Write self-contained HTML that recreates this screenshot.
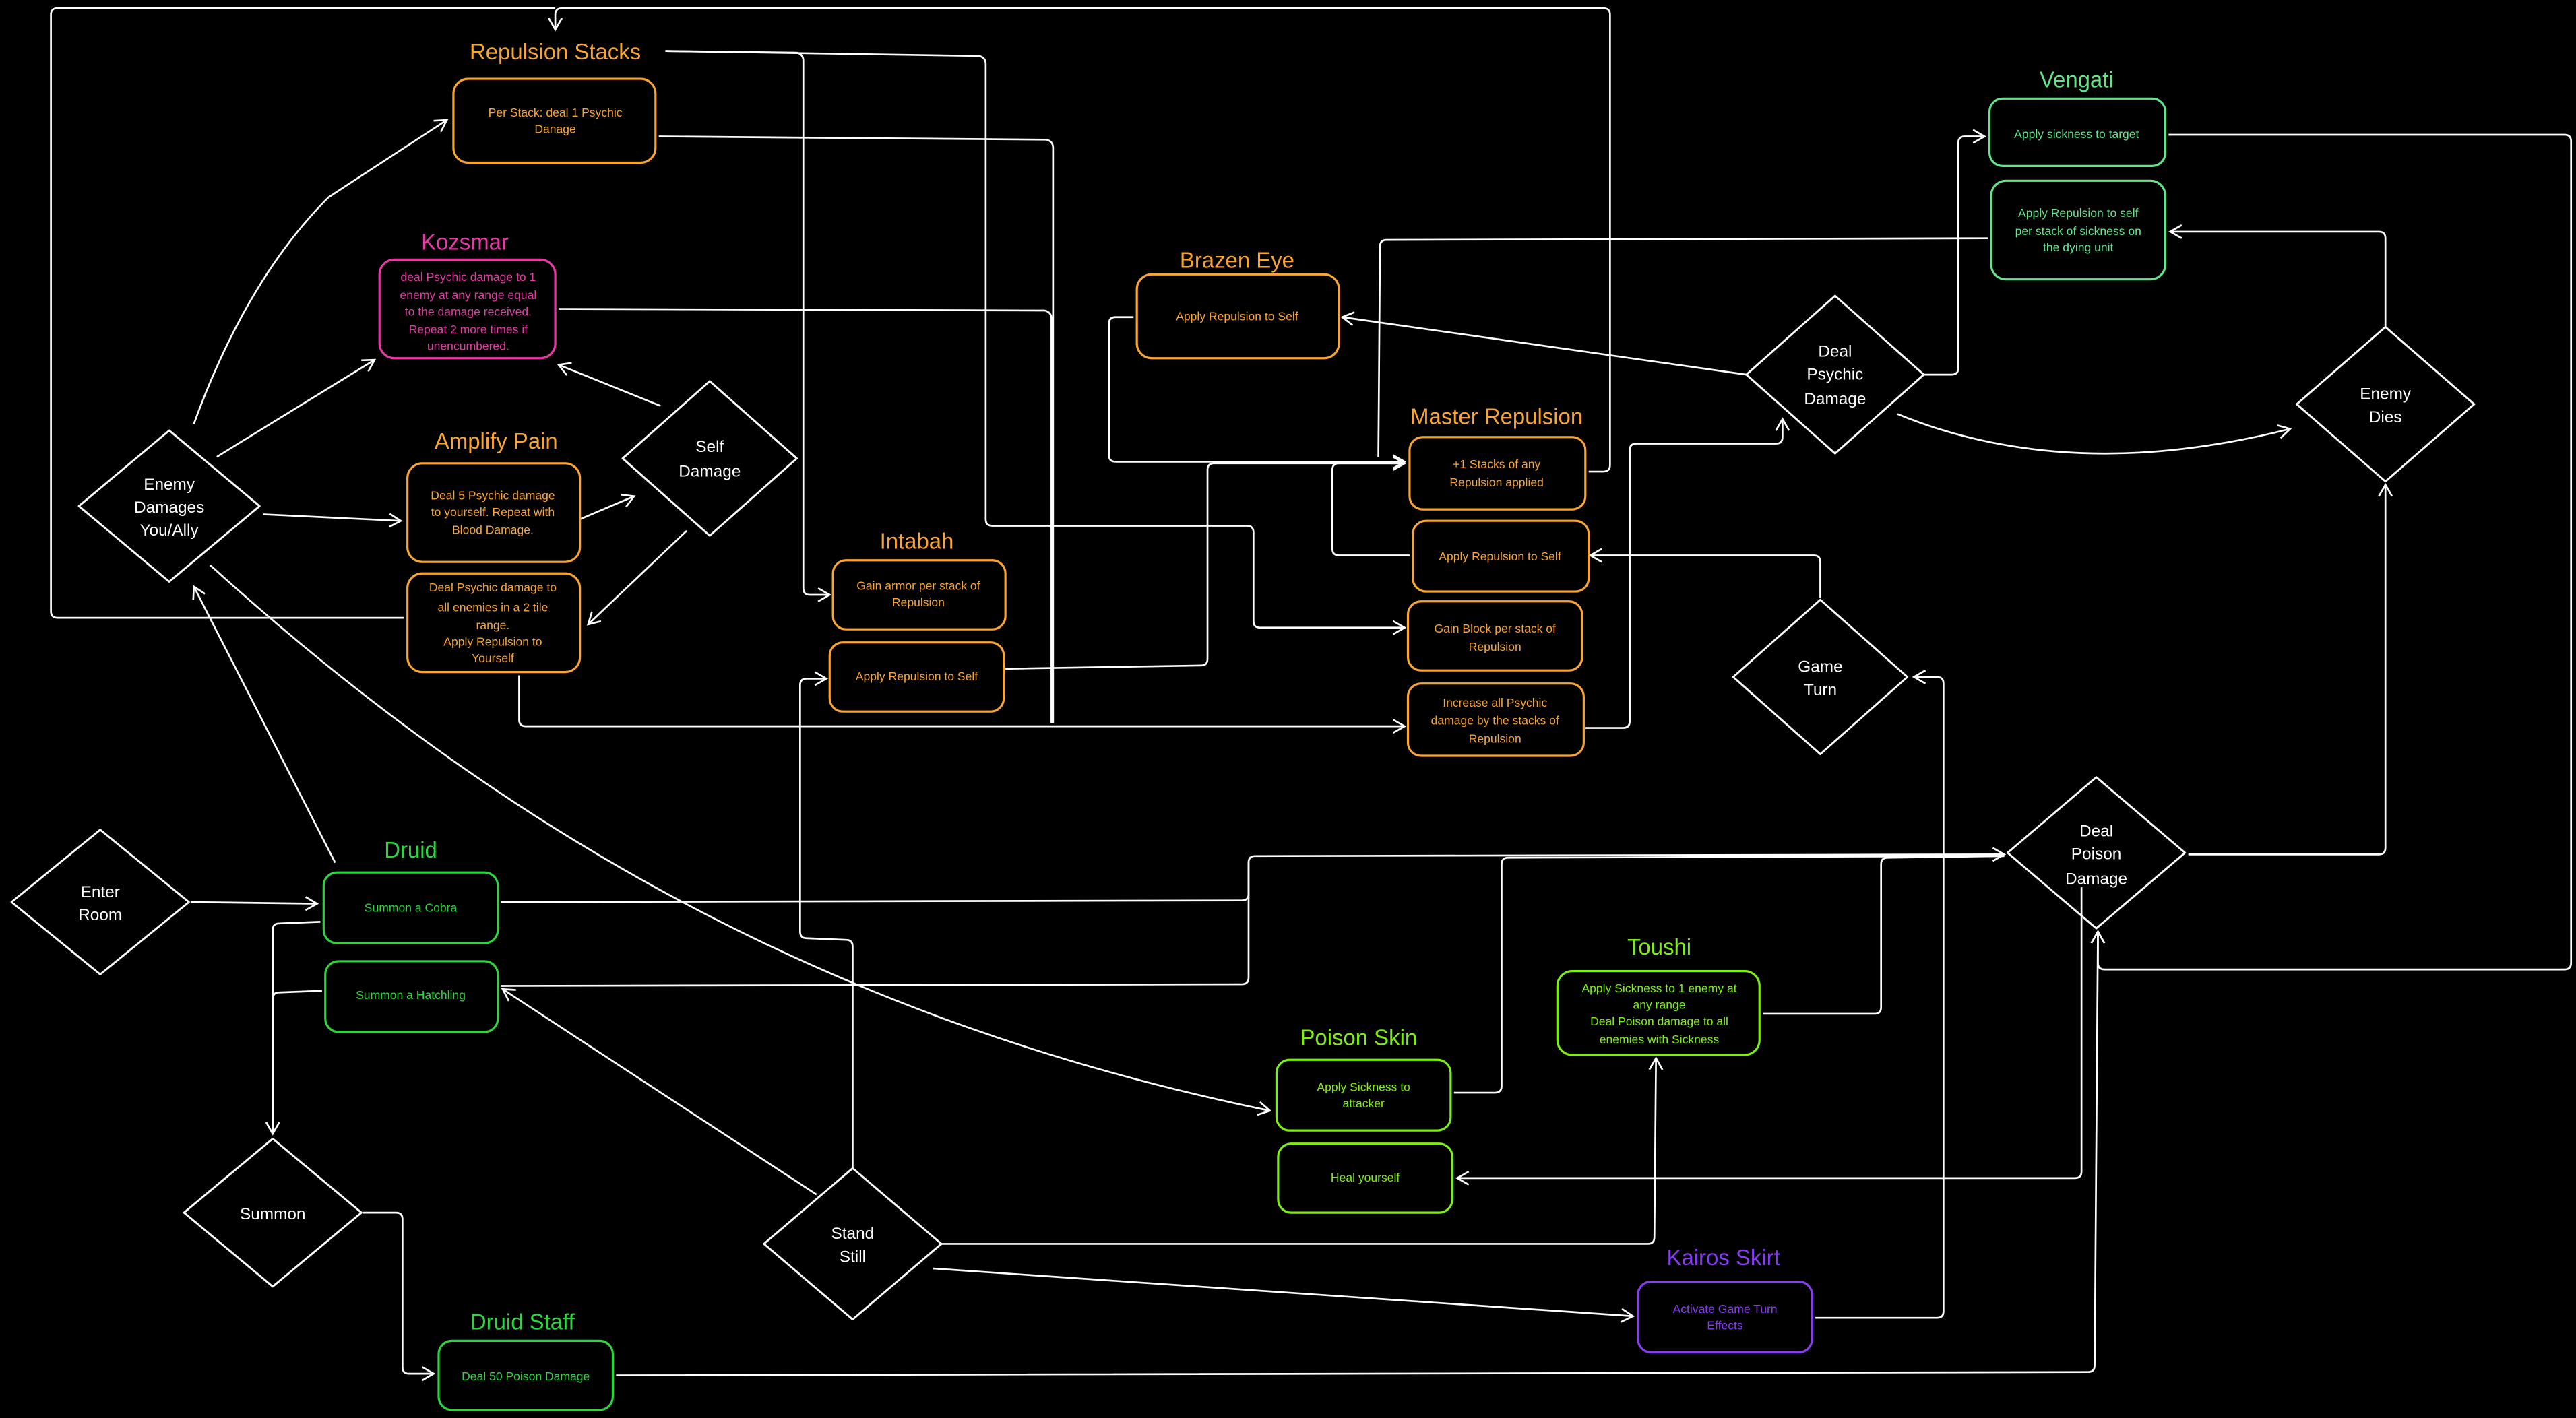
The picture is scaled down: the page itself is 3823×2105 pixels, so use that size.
<!DOCTYPE html>
<html><head><meta charset="utf-8"><style>
html,body{margin:0;padding:0;background:#000;}
svg{display:block;}
text{font-family:"Liberation Sans",sans-serif;text-anchor:middle;}
.t{font-size:13.5px;}
.b{font-size:7.2px;}
.d{font-size:10px;fill:#fff;}
.o{fill:#f9a532;} .os{stroke:#f9a532;}
.m{fill:#e83aa6;} .ms{stroke:#e83aa6;}
.v{fill:#63e68a;} .vs{stroke:#63e68a;}
.g{fill:#2bd63e;} .gs{stroke:#2bd63e;}
.l{fill:#7ef011;} .ls{stroke:#7ef011;}
.p{fill:#8a3cf5;} .ps{stroke:#8a3cf5;}
rect{fill:none;stroke-width:1.3;}
.dia{fill:none;stroke:#fff;stroke-width:1.2;stroke-linejoin:round;}
.c{fill:none;stroke:#fff;stroke-width:1.1;stroke-linejoin:round;}
</style></head><body>
<svg width="3823" height="2105" viewBox="0 0 1568 863" preserveAspectRatio="none" xmlns="http://www.w3.org/2000/svg">
<defs><marker id="a" markerUnits="userSpaceOnUse" markerWidth="12" markerHeight="12" refX="8" refY="5" orient="auto"><path d="M1,1 L8,5 L1,9" fill="none" stroke="#fff" stroke-width="1.1"/></marker></defs>
<rect x="0" y="0" width="1568" height="863" style="fill:#000;stroke:none"/>

<!-- connectors -->
<g class="c">
<path d="M118,258 Q150,170 200,120 L272,73" marker-end="url(#a)"/>
<path d="M132,278 L228,219" marker-end="url(#a)"/>
<path d="M160,313 L244,317" marker-end="url(#a)"/>
<path d="M353,316 L386,302" marker-end="url(#a)"/>
<path d="M402,247 L340,222" marker-end="url(#a)"/>
<path d="M418,323 L358,380" marker-end="url(#a)"/>
<path d="M246,376 L35,376 Q31,376 31,372 L31,9 Q31,5 35,5 L338,5"/>
<path d="M967,287 L976,287 Q980,287 980,283 L980,9 Q980,5 976,5 L342,5 Q338,5 338,9 L338,18" marker-end="url(#a)"/>
<path d="M316,411 L316,438 Q316,442 320,442 L855,442" marker-end="url(#a)"/>
<path d="M405,31 L485,32 Q489,33 489,37 L489,358 Q489,362 493,362 L505,362" marker-end="url(#a)"/>
<path d="M405,31 L596,34 Q600,35 600,39 L600,316 Q600,320 604,320 L759,320 Q763,320 763,324 L763,378 Q763,382 767,382 L855,382" marker-end="url(#a)"/>
<path d="M401,83 L637,85 Q641,86 641,90 L641,440"/>
<path d="M340,188 L636,189 Q640,190 640,194 L640,440"/>
<path d="M612,407 L731,405 Q735,405 735,401 L735,286 Q735,282 739,282 L855,282" marker-end="url(#a)"/>
<path d="M690,193 L679,193 Q675,193 675,197 L675,277 Q675,281 679,281 L855,281" marker-end="url(#a)"/>
<path d="M858,338 L815,338 Q811,338 811,334 L811,286 Q811,282 815,282 L855,282" marker-end="url(#a)"/>
<path d="M1063,228 L817,193" marker-end="url(#a)"/>
<path d="M1170,228 L1188,228 Q1192,228 1192,224 L1192,87 Q1192,83 1196,83 L1208,83" marker-end="url(#a)"/>
<path d="M1155,252 Q1260,295 1394,261" marker-end="url(#a)"/>
<path d="M1210,145 L844,146 Q840,146 840,150 L839,278"/>
<path d="M1452,199 L1452,145 Q1452,141 1448,141 L1321,141" marker-end="url(#a)"/>
<path d="M1320,82 L1561,82 Q1565,82 1565,86 L1565,586 Q1565,590 1561,590 L1281,590 Q1277,590 1277,586 L1277,567" marker-end="url(#a)"/>
<path d="M965,443 L988,443 Q992,443 992,439 L992,274 Q992,270 996,270 L1081,270 Q1085,270 1085,266 L1085,255" marker-end="url(#a)"/>
<path d="M1108,364 L1108,342 Q1108,338 1104,338 L968,338" marker-end="url(#a)"/>
<path d="M1332,520 L1448,520 Q1452,520 1452,516 L1452,295" marker-end="url(#a)"/>
<path d="M305,549 L756,548 Q760,548 760,544 L760,525 Q760,521 764,521 L1220,520" marker-end="url(#a)"/>
<path d="M305,600 L756,599 Q760,599 760,595 L760,525"/>
<path d="M885,665 L910,665 Q914,665 914,661 L914,526 Q914,522 918,522 L1220,521"/>
<path d="M1073,617 L1141,617 Q1145,617 1145,613 L1145,526 Q1145,522 1149,522 L1220,521"/>
<path d="M519,711 L519,576 Q519,572 515,572 L491,571 Q487,571 487,567 L487,417 Q487,413 491,413 L503,413" marker-end="url(#a)"/>
<path d="M497,727 L306,602" marker-end="url(#a)"/>
<path d="M573,757 L1003,757 Q1007,757 1007,753 L1008,644" marker-end="url(#a)"/>
<path d="M568,772 L994,801" marker-end="url(#a)"/>
<path d="M1105,802 L1179,802 Q1183,802 1183,798 L1183,416 Q1183,412 1179,412 L1165,412" marker-end="url(#a)"/>
<path d="M1267,540 L1267,713 Q1267,717 1263,717 L887,717" marker-end="url(#a)"/>
<path d="M375,837 L1271,835 Q1275,835 1275,831 L1277,567" marker-end="url(#a)"/>
<path d="M128,344 C300,500 500,620 773,676" marker-end="url(#a)"/>
<path d="M204,525 L118,357" marker-end="url(#a)"/>
<path d="M116,549 L193,550" marker-end="url(#a)"/>
<path d="M195,561 L170,562 Q166,562 166,566 L166,690" marker-end="url(#a)"/>
<path d="M196,603 L170,604 Q166,604 166,608"/>
<path d="M221,738 L241,738 Q245,738 245,742 L245,832 Q245,836 249,836 L264,836" marker-end="url(#a)"/>
</g>

<!-- diamonds -->
<g>
<polygon class="dia" points="103,262 158,308 103,354 48,308"/>
<text class="d" x="103" y="298">Enemy</text><text class="d" x="103" y="312">Damages</text><text class="d" x="103" y="326">You/Ally</text>
<polygon class="dia" points="432,232 485,279 432,326 379,279"/>
<text class="d" x="432" y="275">Self</text><text class="d" x="432" y="290">Damage</text>
<polygon class="dia" points="1117,180 1171,228 1117,276 1063,228"/>
<text class="d" x="1117" y="217">Deal</text><text class="d" x="1117" y="231">Psychic</text><text class="d" x="1117" y="246">Damage</text>
<polygon class="dia" points="1452,199 1506,246 1452,293 1398,246"/>
<text class="d" x="1452" y="243">Enemy</text><text class="d" x="1452" y="257">Dies</text>
<polygon class="dia" points="1108,365 1161,412 1108,459 1055,412"/>
<text class="d" x="1108" y="409">Game</text><text class="d" x="1108" y="423">Turn</text>
<polygon class="dia" points="1276,473 1330,519 1276,565 1222,519"/>
<text class="d" x="1276" y="509">Deal</text><text class="d" x="1276" y="523">Poison</text><text class="d" x="1276" y="538">Damage</text>
<polygon class="dia" points="61,505 115,549 61,593 7,549"/>
<text class="d" x="61" y="546">Enter</text><text class="d" x="61" y="560">Room</text>
<polygon class="dia" points="166,693 220,738 166,783 112,738"/>
<text class="d" x="166" y="742">Summon</text>
<polygon class="dia" points="519,711 573,757 519,803 465,757"/>
<text class="d" x="519" y="754">Stand</text><text class="d" x="519" y="768">Still</text>
</g>

<!-- orange -->
<text class="t o" x="338" y="36">Repulsion Stacks</text>
<rect class="os" x="276" y="48" width="123" height="51" rx="9"/>
<text class="b o" x="338" y="71">Per Stack: deal 1 Psychic</text><text class="b o" x="338" y="81">Danage</text>

<text class="t o" x="302" y="273">Amplify Pain</text>
<rect class="os" x="248" y="282" width="105" height="60" rx="9"/>
<text class="b o" x="300" y="304">Deal 5 Psychic damage</text><text class="b o" x="300" y="314">to yourself. Repeat with</text><text class="b o" x="300" y="325">Blood Damage.</text>
<rect class="os" x="248" y="349" width="105" height="60" rx="9"/>
<text class="b o" x="300" y="360">Deal Psychic damage to</text><text class="b o" x="300" y="372">all enemies in a 2 tile</text><text class="b o" x="300" y="383">range.</text><text class="b o" x="300" y="393">Apply Repulsion to</text><text class="b o" x="300" y="403">Yourself</text>

<text class="t o" x="558" y="334">Intabah</text>
<rect class="os" x="507" y="341" width="105" height="42" rx="8"/>
<text class="b o" x="559" y="359">Gain armor per stack of</text><text class="b o" x="559" y="369">Repulsion</text>
<rect class="os" x="505" y="391" width="106" height="42" rx="8"/>
<text class="b o" x="558" y="414">Apply Repulsion to Self</text>

<text class="t o" x="753" y="163">Brazen Eye</text>
<rect class="os" x="692" y="167" width="123" height="51" rx="9"/>
<text class="b o" x="753" y="195">Apply Repulsion to Self</text>

<text class="t o" x="911" y="258">Master Repulsion</text>
<rect class="os" x="858" y="266" width="107" height="44" rx="8"/>
<text class="b o" x="911" y="285">+1 Stacks of any</text><text class="b o" x="911" y="296">Repulsion applied</text>
<rect class="os" x="860" y="317" width="107" height="43" rx="8"/>
<text class="b o" x="913" y="341">Apply Repulsion to Self</text>
<rect class="os" x="857" y="366" width="106" height="42" rx="8"/>
<text class="b o" x="910" y="385">Gain Block per stack of</text><text class="b o" x="910" y="396">Repulsion</text>
<rect class="os" x="857" y="416" width="107" height="44" rx="8"/>
<text class="b o" x="910" y="430">Increase all Psychic</text><text class="b o" x="910" y="441">damage by the stacks of</text><text class="b o" x="910" y="452">Repulsion</text>

<!-- magenta -->
<text class="t m" x="283" y="152">Kozsmar</text>
<rect class="ms" x="231" y="158" width="107" height="60" rx="9"/>
<text class="b m" x="285" y="171">deal Psychic damage to 1</text><text class="b m" x="285" y="182">enemy at any range equal</text><text class="b m" x="285" y="192">to the damage received.</text><text class="b m" x="285" y="203">Repeat 2 more times if</text><text class="b m" x="285" y="213">unencumbered.</text>

<!-- vengati -->
<text class="t v" x="1264" y="53">Vengati</text>
<rect class="vs" x="1211" y="60" width="107" height="41" rx="8"/>
<text class="b v" x="1264" y="84">Apply sickness to target</text>
<rect class="vs" x="1212" y="110" width="106" height="60" rx="9"/>
<text class="b v" x="1265" y="132">Apply Repulsion to self</text><text class="b v" x="1265" y="143">per stack of sickness on</text><text class="b v" x="1265" y="153">the dying unit</text>

<!-- druid -->
<text class="t g" x="250" y="522">Druid</text>
<rect class="gs" x="197" y="531" width="106" height="43" rx="8"/>
<text class="b g" x="250" y="555">Summon a Cobra</text>
<rect class="gs" x="198" y="585" width="105" height="43" rx="8"/>
<text class="b g" x="250" y="608">Summon a Hatchling</text>
<text class="t g" x="318" y="809">Druid Staff</text>
<rect class="gs" x="267" y="816" width="106" height="42" rx="8"/>
<text class="b g" x="320" y="840">Deal 50 Poison Damage</text>

<!-- lime -->
<text class="t l" x="1010" y="581">Toushi</text>
<rect class="ls" x="948" y="591" width="123" height="51" rx="9"/>
<text class="b l" x="1010" y="604">Apply Sickness to 1 enemy at</text><text class="b l" x="1010" y="614">any range</text><text class="b l" x="1010" y="624">Deal Poison damage to all</text><text class="b l" x="1010" y="635">enemies with Sickness</text>
<text class="t l" x="827" y="636">Poison Skin</text>
<rect class="ls" x="777" y="645" width="106" height="43" rx="8"/>
<text class="b l" x="830" y="664">Apply Sickness to</text><text class="b l" x="830" y="674">attacker</text>
<rect class="ls" x="778" y="696" width="106" height="42" rx="8"/>
<text class="b l" x="831" y="719">Heal yourself</text>

<!-- purple -->
<text class="t p" x="1049" y="770">Kairos Skirt</text>
<rect class="ps" x="997" y="780" width="106" height="43" rx="8"/>
<text class="b p" x="1050" y="799">Activate Game Turn</text><text class="b p" x="1050" y="809">Effects</text>
</svg>
</body></html>
